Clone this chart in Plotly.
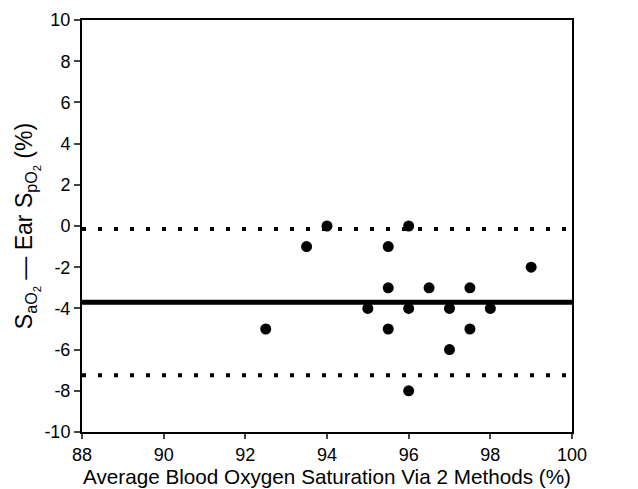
import plotly.graph_objects as go

# Data
avg_sat = [92.5, 93.5, 94.0, 95.0, 95.5, 95.5, 95.5, 96.0, 96.0, 96.0,
           96.5, 97.0, 97.0, 97.5, 97.5, 98.0, 99.0]
diff = [-5, -1, 0, -4, -1, -3, -5, 0, -4, -8,
        -3, -4, -6, -3, -5, -4, -2]
line_x = [88, 100]
mean_bias = -3.7
upper_loa = -0.15
lower_loa = -7.25
x_ticks = [88, 90, 92, 94, 96, 98, 100]
y_ticks = [-10, -8, -6, -4, -2, 0, 2, 4, 6, 8, 10]
y_tick_labels = [str(v) for v in y_ticks]

FONT = "Liberation Sans, Arial, sans-serif"

fig = go.Figure()
fig.add_trace(go.Scatter(x=line_x, y=[upper_loa, upper_loa], mode="lines",
                         line=dict(color="black", width=4, dash="4px,12px"),
                         showlegend=False, hoverinfo="skip"))
fig.add_trace(go.Scatter(x=line_x, y=[lower_loa, lower_loa], mode="lines",
                         line=dict(color="black", width=4, dash="4px,12px"),
                         showlegend=False, hoverinfo="skip"))
fig.add_trace(go.Scatter(x=line_x, y=[mean_bias, mean_bias], mode="lines",
                         line=dict(color="black", width=5),
                         showlegend=False, hoverinfo="skip"))
fig.add_trace(go.Scatter(x=avg_sat, y=diff, mode="markers",
                         marker=dict(color="black", size=11, symbol="circle"),
                         showlegend=False))

fig.update_layout(
    width=638, height=489,
    margin=dict(l=82, r=66, t=20, b=57),
    paper_bgcolor="white", plot_bgcolor="white",
    font=dict(family=FONT, color="black", size=18),
    xaxis=dict(range=[88, 100], tickvals=x_ticks, ticks="outside", ticklen=5,
               tickwidth=2, showline=True, linewidth=2, linecolor="black",
               mirror=True, showgrid=False, zeroline=False, automargin=False,
               tickfont=dict(size=18),
               title=dict(text="Average Blood Oxygen Saturation Via 2 Methods (%)",
                          font=dict(size=20.7), standoff=2)),
    yaxis=dict(range=[-10, 10], tickvals=y_ticks, ticktext=y_tick_labels,
               ticks="outside", ticklen=6,
               tickwidth=2, showline=True, linewidth=2, linecolor="black",
               mirror=True, showgrid=False, zeroline=False, automargin=False,
               tickfont=dict(size=18),
               title=dict(text="S<sub>aO<sub>2</sub></sub> \u2014 Ear S<sub>pO<sub>2</sub></sub> (%)",
                          font=dict(size=23), standoff=5)),
)

fig.write_html("out.html", config={"displayModeBar": False},
               post_script="document.body.style.margin='0';document.body.style.overflow='hidden';")
